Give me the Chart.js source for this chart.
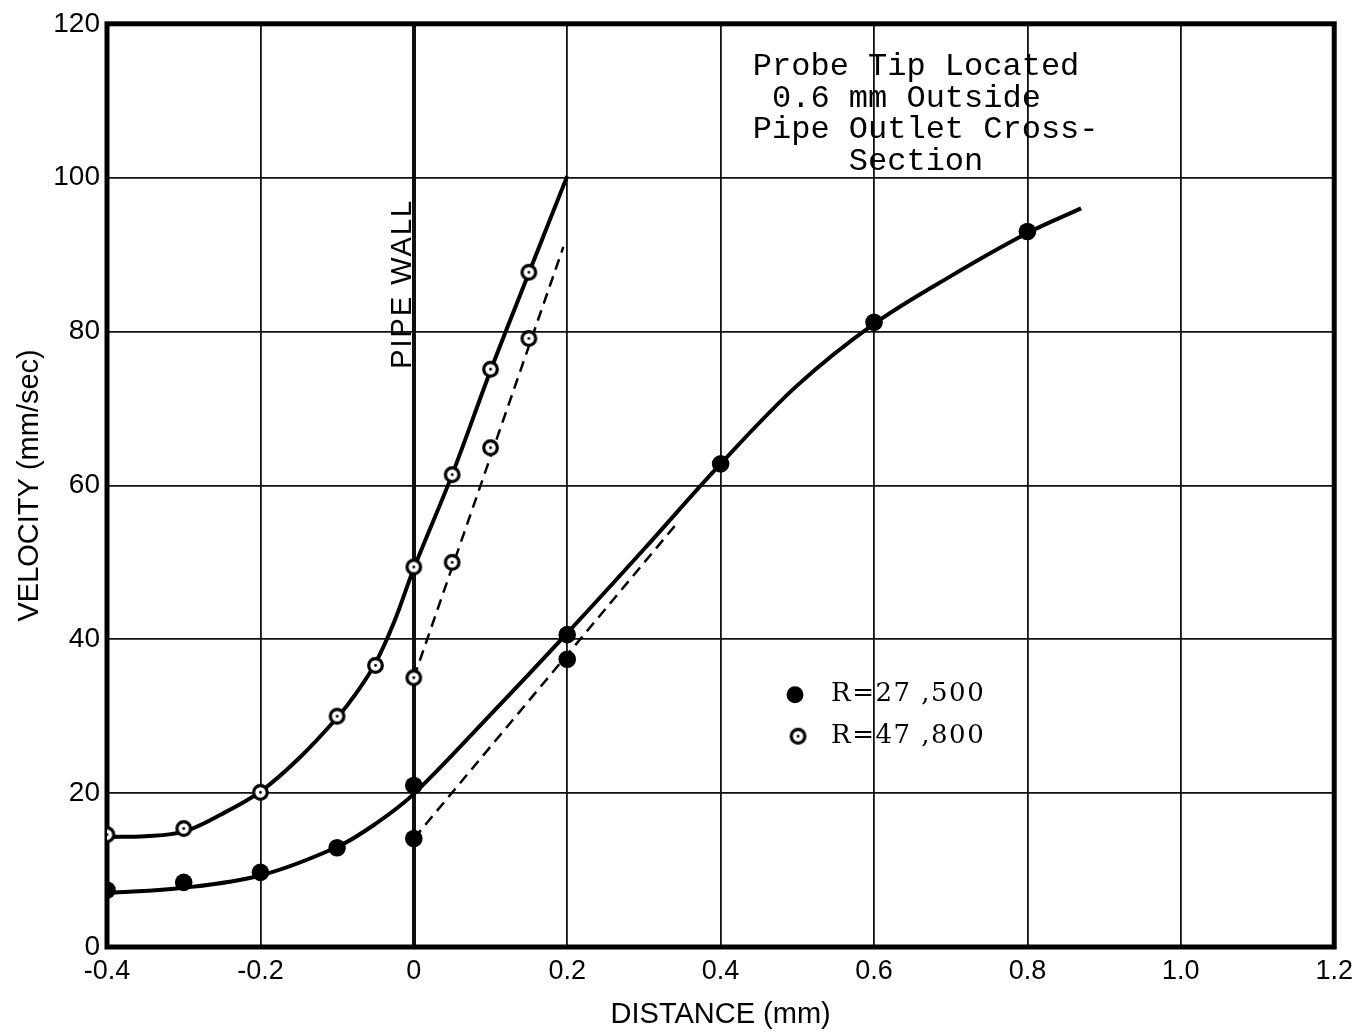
<!DOCTYPE html>
<html>
<head>
<meta charset="utf-8">
<title>Velocity vs distance</title>
<script src="https://cdn.jsdelivr.net/npm/chart.js@4.4.1/dist/chart.umd.min.js"></script>
<style>
  html, body { margin: 0; padding: 0; background: #fff; }
</style>
</head>
<body>
<canvas id="myChart" width="1361" height="1032"></canvas>
<script>
// measured points, R=27,500 (filled)
const r27x = [-0.4, -0.3, -0.2, -0.1, 0, 0, 0.2, 0.2, 0.4, 0.6, 0.8];
const r27y = [7.4, 8.4, 9.7, 12.9, 21.0, 14.1, 40.6, 37.4, 62.8, 81.2, 93.0];
// measured points, R=47,800 (open)
const r47x = [-0.4, -0.3, -0.2, -0.1, -0.05, 0, 0, 0.05, 0.05, 0.1, 0.1, 0.15, 0.15];
const r47y = [14.6, 15.4, 20.1, 30.0, 36.6, 49.4, 35.0, 61.4, 50.0, 75.1, 64.9, 87.7, 79.1];

// hand drawn curves
const fit27x = [-0.4, -0.3, -0.2, -0.1, -0.05, 0, 0.1, 0.2, 0.3, 0.4, 0.5, 0.6, 0.7, 0.8, 0.87];
const fit27y = [7.0, 7.7, 9.3, 13.0, 16.0, 19.9, 30.2, 40.8, 51.7, 62.8, 73.0, 81.0, 87.2, 92.8, 96.0];
const fit47x = [-0.4, -0.35, -0.3, -0.25, -0.2, -0.15, -0.1, -0.075, -0.05, -0.025, 0, 0.05, 0.1, 0.15, 0.2];
const fit47y = [14.3, 14.4, 15.0, 17.3, 20.2, 24.5, 29.8, 33.0, 36.9, 42.4, 49.2, 61.4, 74.9, 87.6, 100.2];

// dashed straight lines
const dash27x = [0, 0.345];
const dash27y = [14.1, 55.3];
const dash47x = [0, 0.195];
const dash47y = [35.0, 91.0];

const xTicks = [-0.4, -0.2, 0, 0.2, 0.4, 0.6, 0.8, 1.0, 1.2];
const xTickLabels = ['-0.4', '-0.2', '0', '0.2', '0.4', '0.6', '0.8', '1.0', '1.2'];
const yTicks = [0, 20, 40, 60, 80, 100, 120];

const seriesNames = ['R=27 ,500', 'R=47 ,800'];
const noteLines = ['Probe Tip Located', ' 0.6 mm Outside', 'Pipe Outlet Cross-', '     Section'];

const toXY = (xs, ys) => xs.map((x, i) => ({ x: x, y: ys[i] }));

// open circle with a dot in the middle
function openMarker(r) {
  const c = document.createElement('canvas');
  c.width = 2 * r + 6; c.height = 2 * r + 6;
  const g = c.getContext('2d');
  const m = c.width / 2;
  g.beginPath(); g.arc(m, m, r, 0, Math.PI * 2);
  g.fillStyle = '#fff'; g.fill();
  g.lineWidth = 3.2; g.strokeStyle = '#000'; g.stroke();
  g.beginPath(); g.arc(m, m, 1.4, 0, Math.PI * 2);
  g.fillStyle = '#000'; g.fill();
  return c;
}
const openPt = openMarker(6.8);

const frame = {
  id: 'frame',
  beforeDatasetsDraw(chart) {
    const { ctx, chartArea: a } = chart;
    ctx.save();
    ctx.lineWidth = 5;
    ctx.strokeStyle = '#000';
    ctx.strokeRect(a.left, a.top, a.right - a.left, a.bottom - a.top);
    ctx.restore();
  }
};

const notes = {
  id: 'notes',
  afterDatasetsDraw(chart) {
    const { ctx } = chart;
    const xs = chart.scales.x, ys = chart.scales.y;
    ctx.save();
    ctx.fillStyle = '#000';

    // pipe wall label
    ctx.save();
    ctx.translate(xs.getPixelForValue(0) - 3, ys.getPixelForValue(86.2));
    ctx.rotate(-Math.PI / 2);
    ctx.font = '29px "Liberation Sans"';
    ctx.letterSpacing = '2px';
    ctx.textAlign = 'center';
    ctx.textBaseline = 'alphabetic';
    ctx.fillText('PIPE WALL', 0, 0);
    ctx.restore();

    // note in the top right
    ctx.font = '32px "Liberation Mono"';
    ctx.textAlign = 'left';
    ctx.textBaseline = 'alphabetic';
    let nx = xs.getPixelForValue(0.442);
    noteLines.forEach((t, i) => {
      ctx.fillText(t, nx, ys.getPixelForValue(113.3 - i * 4.1));
    });

    // legend
    ctx.font = '26px "DejaVu Serif"';
    ctx.letterSpacing = '1.5px';
    ctx.textBaseline = 'middle';
    const lx = xs.getPixelForValue(0.497);
    const tx = xs.getPixelForValue(0.544);
    const y1 = ys.getPixelForValue(32.8), y2 = ys.getPixelForValue(27.4);
    ctx.beginPath(); ctx.arc(lx, y1, 8.5, 0, Math.PI * 2); ctx.fill();
    ctx.drawImage(openPt, lx + 3 - openPt.width / 2, y2 - openPt.height / 2);
    ctx.fillText(seriesNames[0], tx, y1);
    ctx.fillText(seriesNames[1], tx, y2);
    ctx.restore();
  }
};

const curveStyle = {
  showLine: true, pointRadius: 0, borderColor: '#000', borderWidth: 4,
  tension: 0.35, fill: false
};
const dashStyle = {
  showLine: true, pointRadius: 0, borderColor: '#000', borderWidth: 2.5,
  borderDash: [11, 7], fill: false
};

new Chart(document.getElementById('myChart'), {
  type: 'scatter',
  data: {
    datasets: [
      {
        label: seriesNames[0], data: toXY(r27x, r27y), showLine: false,
        pointRadius: 8.8, pointHoverRadius: 8.8, pointStyle: 'circle',
        backgroundColor: '#000', borderColor: '#000', borderWidth: 0
      },
      {
        label: seriesNames[1], data: toXY(r47x, r47y), showLine: false,
        pointStyle: openPt, pointRadius: 7
      },
      Object.assign({ label: 'fit27', data: toXY(fit27x, fit27y) }, curveStyle),
      Object.assign({ label: 'fit47', data: toXY(fit47x, fit47y) }, curveStyle),
      Object.assign({ label: 'dash27', data: toXY(dash27x, dash27y) }, dashStyle),
      Object.assign({ label: 'dash47', data: toXY(dash47x, dash47y) }, dashStyle)
    ]
  },
  options: {
    responsive: false,
    animation: false,
    layout: { padding: { top: 20, right: 25, left: 0, bottom: 0 } },
    plugins: {
      legend: { display: false },
      tooltip: { enabled: false }
    },
    scales: {
      x: {
        type: 'linear',
        min: -0.4,
        max: 1.2,
        afterBuildTicks: s => { s.ticks = xTicks.map(v => ({ value: v })); },
        afterFit: s => { s.height = 85; },
        ticks: {
          color: '#000',
          padding: 8,
          maxRotation: 0,
          font: { family: 'Liberation Sans', size: 27 },
          callback: (v, i) => xTickLabels[i]
        },
        grid: {
          drawTicks: false,
          color: '#111',
          lineWidth: c => (c.tick && c.tick.value === 0 ? 4 : 1.8)
        },
        border: { display: false },
        title: {
          display: true,
          text: 'DISTANCE (mm)',
          color: '#000',
          font: { family: 'Liberation Sans', size: 29 },
          padding: { top: 0, bottom: 0 }
        }
      },
      y: {
        type: 'linear',
        min: 0,
        max: 120,
        afterBuildTicks: s => { s.ticks = yTicks.map(v => ({ value: v })); },
        afterFit: s => { s.width = 107; },
        ticks: {
          color: '#000',
          padding: 7,
          font: { family: 'Liberation Sans', size: 28 }
        },
        grid: { drawTicks: false, color: '#111', lineWidth: 1.8 },
        border: { display: false },
        title: {
          display: true,
          text: 'VELOCITY (mm/sec)',
          color: '#000',
          font: { family: 'Liberation Sans', size: 29 },
          padding: { top: 13, bottom: 0 }
        }
      }
    }
  },
  plugins: [frame, notes]
});
</script>
</body>
</html>
